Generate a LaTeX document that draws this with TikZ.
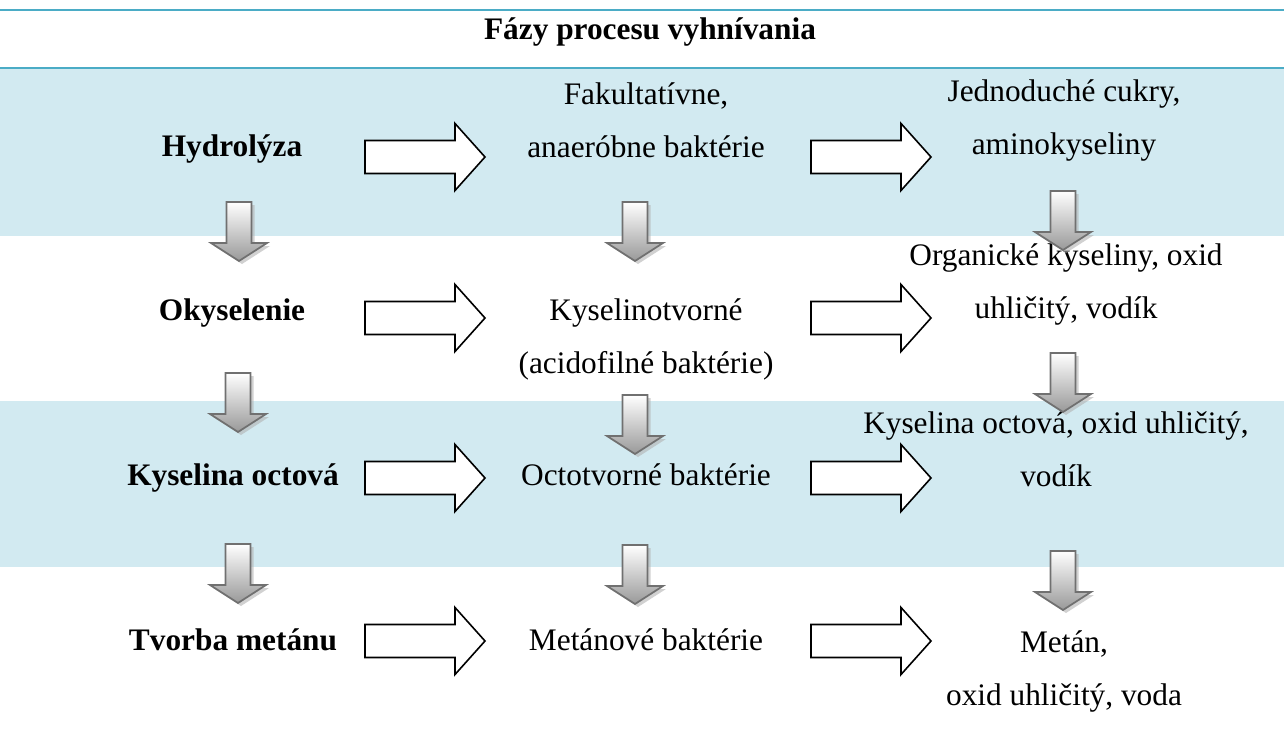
\documentclass[tikz,border=0pt]{standalone}
\usepackage{fontspec}
\setmainfont{Liberation Serif}
\definecolor{bandblue}{RGB}{210,234,241}
\definecolor{rulecyan}{RGB}{75,172,198}
\definecolor{arrowgray}{RGB}{112,112,112}
\begin{document}
\begin{tikzpicture}[x=0.75pt,y=0.75pt,yscale=-1,xscale=1,
    txt/.style={inner sep=0.75pt, align=center, font=\fontsize{23.5}{39.75}\selectfont},
    phase/.style={txt, anchor=mid, font=\fontsize{23.5}{39.75}\selectfont\bfseries},
    pics/rarrow/.style={code={
      \draw[line width=1.2pt, fill=white] (0,-16.5) -- (90,-16.5) -- (90,-33.5) -- (120,0) -- (90,33.5) -- (90,16.5) -- (0,16.5) -- cycle;
    }},
    pics/darrow/.style={code={
      \fill[black!30, opacity=0.6] (-9.5,-3) -- (15.5,-3) -- (15.5,-44) -- (31,-44) -- (3,-62) -- (-25,-44) -- (-9.5,-44) -- cycle;
      \draw[arrowgray, line width=1.3pt, top color=white, bottom color=black!40] (-12.5,0) -- (12.5,0) -- (12.5,-41) -- (28,-41) -- (0,-59) -- (-28,-41) -- (-12.5,-41) -- cycle;
    }}]
    \useasboundingbox (0,0) rectangle (1284,731);

    %Bands
    \fill[bandblue] (0,68) rectangle (1284,236);
    \fill[bandblue] (0,401) rectangle (1284,567);
    \draw[rulecyan, line width=2.2pt] (0,10) -- (1284,10);
    \draw[rulecyan, line width=2.2pt] (0,68) -- (1284,68);

    % Title
    \node[phase] (title) at (650,36) {Fázy procesu vyhnívania};

    % Phases
    \node[phase] (hydro) at (232,153) {Hydrolýza};
    \node[phase] (okys) at (232,317) {Okyselenie};
    \node[phase] (octova) at (233,482) {Kyselina octová};
    \node[phase] (metan) at (233,647) {Tvorba metánu};

    % Bacteria
    \node[txt] (fakult) at (646,120) {Fakultatívne,\\anaeróbne baktérie};
    \node[txt] (kyselin) at (646,339) {Kyselinotvorné\\(acidofilné baktérie)};
    \node[txt, anchor=mid] (octot) at (646,482) {Octotvorné baktérie};
    \node[txt, anchor=mid] (metanb) at (646,647) {Metánové baktérie};

    % Products
    \node[txt] (cukry) at (1064,120) {Jednoduché cukry,\\aminokyseliny};
    \node[txt] (organ) at (1066,284) {Organické kyseliny, oxid\\uhličitý, vodík};
    \node[txt] (kysoct) at (1056,449) {Kyselina octová, oxid uhličitý,\\vodík};
    \node[txt] (metanp) at (1064,671) {Metán,\\oxid uhličitý, voda};

    % Block arrows
    \foreach \y in {157,318,478,641} {
      \pic at (365,\y) {rarrow};
      \pic at (811,\y) {rarrow};
    }

    % Down arrows
    \pic at (239,202) {darrow};
    \pic at (238,373) {darrow};
    \pic at (238,544) {darrow};
    \pic at (635,202) {darrow};
    \pic at (635,395) {darrow};
    \pic at (635,545) {darrow};
    \pic at (1063,191) {darrow};
    \pic at (1063,353) {darrow};
    \pic at (1063,551) {darrow};
\end{tikzpicture}
\end{document}
